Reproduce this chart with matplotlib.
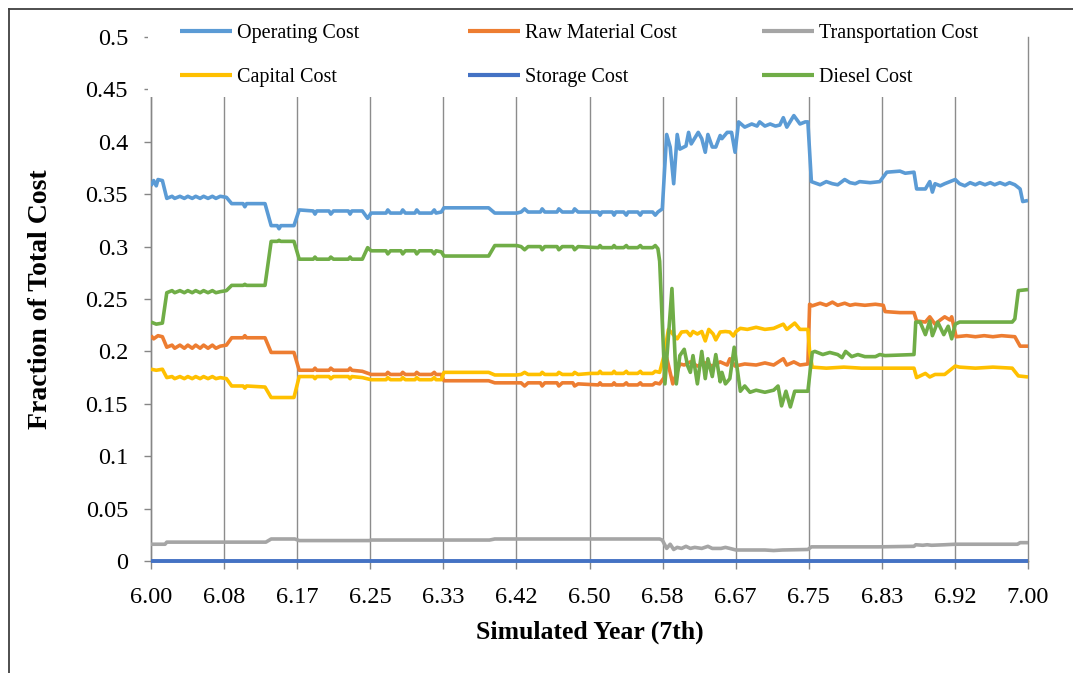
import matplotlib
matplotlib.use("Agg")
import matplotlib.pyplot as plt
from matplotlib.lines import Line2D
from matplotlib.patches import Rectangle

plt.rcParams['font.family'] = ['Liberation Serif', 'DejaVu Serif']

# ---------------- data ----------------
operating_x = [6.000, 6.003, 6.006, 6.008, 6.013, 6.018, 6.024, 6.027, 6.033, 6.038, 6.042, 6.047, 6.051,
               6.056, 6.060, 6.065, 6.070, 6.074, 6.079, 6.086, 6.092, 6.105, 6.107, 6.109, 6.130, 6.137,
               6.144, 6.146, 6.148, 6.163, 6.169, 6.185, 6.187, 6.189, 6.203, 6.205, 6.208, 6.225, 6.227,
               6.229, 6.241, 6.247, 6.251, 6.268, 6.270, 6.273, 6.285, 6.287, 6.290, 6.301, 6.303, 6.306,
               6.320, 6.323, 6.325, 6.331, 6.334, 6.385, 6.392, 6.417, 6.422, 6.426, 6.430, 6.444, 6.446,
               6.449, 6.463, 6.465, 6.469, 6.481, 6.483, 6.487, 6.510, 6.512, 6.514, 6.526, 6.528, 6.530,
               6.539, 6.542, 6.544, 6.555, 6.558, 6.560, 6.572, 6.575, 6.578, 6.583, 6.588, 6.592, 6.596,
               6.600, 6.603, 6.610, 6.613, 6.616, 6.624, 6.628, 6.632, 6.635, 6.640, 6.644, 6.649, 6.651,
               6.657, 6.662, 6.666, 6.670, 6.677, 6.685, 6.691, 6.694, 6.700, 6.706, 6.712, 6.717, 6.721,
               6.725, 6.733, 6.740, 6.746, 6.749, 6.753, 6.763, 6.770, 6.777, 6.783, 6.791, 6.797, 6.803,
               6.808, 6.820, 6.831, 6.839, 6.854, 6.860, 6.870, 6.873, 6.883, 6.888, 6.891, 6.894, 6.900,
               6.905, 6.911, 6.917, 6.922, 6.928, 6.934, 6.940, 6.945, 6.951, 6.957, 6.962, 6.968, 6.974,
               6.979, 6.985, 6.991, 6.994, 7.000]
operating_y = [0.358, 0.363, 0.358, 0.364, 0.363, 0.346, 0.348, 0.346, 0.348, 0.346, 0.348, 0.346, 0.348,
               0.346, 0.348, 0.346, 0.348, 0.346, 0.348, 0.347, 0.341, 0.341, 0.338, 0.341, 0.341, 0.320,
               0.320, 0.317, 0.320, 0.320, 0.335, 0.334, 0.331, 0.334, 0.334, 0.331, 0.334, 0.334, 0.331,
               0.334, 0.334, 0.327, 0.332, 0.332, 0.335, 0.332, 0.332, 0.335, 0.332, 0.332, 0.335, 0.332,
               0.332, 0.335, 0.332, 0.333, 0.337, 0.337, 0.332, 0.332, 0.333, 0.336, 0.333, 0.333, 0.336,
               0.333, 0.333, 0.336, 0.333, 0.333, 0.336, 0.333, 0.333, 0.330, 0.333, 0.333, 0.330, 0.333,
               0.333, 0.330, 0.333, 0.333, 0.330, 0.333, 0.333, 0.330, 0.333, 0.336, 0.407, 0.395, 0.360,
               0.407, 0.393, 0.396, 0.409, 0.398, 0.409, 0.403, 0.390, 0.407, 0.395, 0.395, 0.406, 0.403,
               0.409, 0.409, 0.390, 0.419, 0.414, 0.417, 0.415, 0.419, 0.415, 0.417, 0.415, 0.416, 0.423,
               0.414, 0.425, 0.417, 0.419, 0.419, 0.362, 0.359, 0.362, 0.360, 0.359, 0.364, 0.361, 0.360,
               0.362, 0.361, 0.362, 0.371, 0.372, 0.370, 0.371, 0.355, 0.355, 0.362, 0.352, 0.360, 0.358,
               0.360, 0.362, 0.364, 0.360, 0.358, 0.361, 0.359, 0.361, 0.359, 0.361, 0.359, 0.361, 0.359,
               0.361, 0.359, 0.355, 0.343, 0.344]

raw_x = [6.000, 6.003, 6.008, 6.013, 6.018, 6.024, 6.027, 6.033, 6.038, 6.042, 6.047, 6.051, 6.056, 6.060,
         6.065, 6.070, 6.074, 6.079, 6.086, 6.092, 6.105, 6.107, 6.109, 6.130, 6.137, 6.163, 6.169, 6.185,
         6.187, 6.189, 6.203, 6.205, 6.208, 6.225, 6.227, 6.229, 6.241, 6.251, 6.268, 6.270, 6.273, 6.285,
         6.287, 6.290, 6.301, 6.303, 6.306, 6.320, 6.323, 6.325, 6.331, 6.334, 6.385, 6.392, 6.417, 6.422,
         6.426, 6.430, 6.444, 6.446, 6.449, 6.463, 6.465, 6.469, 6.481, 6.483, 6.487, 6.510, 6.512, 6.514,
         6.526, 6.528, 6.530, 6.539, 6.542, 6.544, 6.555, 6.558, 6.560, 6.572, 6.575, 6.580, 6.585, 6.588,
         6.595, 6.603, 6.608, 6.615, 6.623, 6.632, 6.640, 6.649, 6.657, 6.660, 6.666, 6.677, 6.690, 6.700,
         6.710, 6.721, 6.725, 6.733, 6.740, 6.749, 6.751, 6.754, 6.763, 6.770, 6.777, 6.783, 6.791, 6.797,
         6.803, 6.814, 6.826, 6.835, 6.837, 6.854, 6.870, 6.873, 6.883, 6.888, 6.894, 6.900, 6.905, 6.911,
         6.913, 6.918, 6.930, 6.940, 6.950, 6.960, 6.970, 6.985, 6.991, 7.000]
raw_y = [0.215, 0.212, 0.215, 0.214, 0.204, 0.206, 0.203, 0.206, 0.203, 0.206, 0.203, 0.206, 0.203, 0.206,
         0.203, 0.206, 0.203, 0.205, 0.206, 0.213, 0.213, 0.215, 0.213, 0.213, 0.199, 0.199, 0.182, 0.182,
         0.184, 0.182, 0.182, 0.184, 0.182, 0.182, 0.184, 0.182, 0.181, 0.178, 0.178, 0.180, 0.178, 0.178,
         0.180, 0.178, 0.178, 0.180, 0.178, 0.178, 0.180, 0.178, 0.178, 0.172, 0.172, 0.170, 0.170, 0.170,
         0.167, 0.170, 0.170, 0.167, 0.170, 0.170, 0.167, 0.170, 0.170, 0.167, 0.169, 0.168, 0.170, 0.168,
         0.168, 0.170, 0.168, 0.168, 0.170, 0.168, 0.168, 0.170, 0.168, 0.168, 0.170, 0.169, 0.175, 0.194,
         0.169, 0.188, 0.187, 0.190, 0.186, 0.189, 0.186, 0.190, 0.187, 0.193, 0.186, 0.188, 0.187, 0.189,
         0.187, 0.193, 0.187, 0.190, 0.187, 0.188, 0.245, 0.2435, 0.246, 0.244, 0.247, 0.244, 0.246, 0.244,
         0.245, 0.244, 0.245, 0.244, 0.238, 0.237, 0.237, 0.229, 0.228, 0.233, 0.226, 0.230, 0.233, 0.230,
         0.233, 0.214, 0.215, 0.214, 0.215, 0.214, 0.215, 0.214, 0.205, 0.205]

transport_x = [6.000, 6.016, 6.018, 6.131, 6.137, 6.164, 6.169, 6.249, 6.251, 6.386, 6.392, 6.580, 6.583,
               6.588, 6.592, 6.596, 6.600, 6.605, 6.610, 6.615, 6.620, 6.628, 6.635, 6.640, 6.650, 6.655,
               6.660, 6.667, 6.700, 6.710, 6.720, 6.749, 6.753, 6.830, 6.870, 6.872, 6.880, 6.885, 6.890,
               6.905, 6.917, 6.988, 6.991, 7.000]
transport_y = [0.016, 0.016, 0.018, 0.018, 0.021, 0.021, 0.0195, 0.0195, 0.020, 0.020, 0.021, 0.021, 0.020,
               0.012, 0.016, 0.011, 0.013, 0.012, 0.014, 0.012, 0.013, 0.012, 0.014, 0.012, 0.012, 0.013,
               0.012, 0.0105, 0.0105, 0.010, 0.0105, 0.011, 0.0135, 0.0135, 0.014, 0.0155, 0.015, 0.0155,
               0.015, 0.0155, 0.016, 0.016, 0.0175, 0.0175]

capital_x = [6.000, 6.006, 6.013, 6.018, 6.024, 6.027, 6.033, 6.038, 6.042, 6.047, 6.051, 6.056, 6.060,
             6.065, 6.070, 6.074, 6.079, 6.086, 6.092, 6.105, 6.107, 6.109, 6.130, 6.137, 6.163, 6.169,
             6.185, 6.187, 6.189, 6.203, 6.205, 6.208, 6.225, 6.227, 6.229, 6.241, 6.251, 6.268, 6.270,
             6.273, 6.285, 6.287, 6.290, 6.301, 6.303, 6.306, 6.320, 6.323, 6.325, 6.331, 6.334, 6.385,
             6.392, 6.417, 6.422, 6.426, 6.430, 6.444, 6.446, 6.449, 6.463, 6.465, 6.469, 6.481, 6.483,
             6.487, 6.501, 6.510, 6.512, 6.514, 6.526, 6.528, 6.530, 6.539, 6.542, 6.544, 6.555, 6.558,
             6.560, 6.572, 6.575, 6.580, 6.585, 6.590, 6.600, 6.605, 6.611, 6.615, 6.618, 6.623, 6.628,
             6.632, 6.636, 6.641, 6.644, 6.649, 6.655, 6.660, 6.664, 6.667, 6.672, 6.680, 6.690, 6.700,
             6.710, 6.721, 6.725, 6.734, 6.740, 6.749, 6.751, 6.754, 6.770, 6.790, 6.810, 6.835, 6.850,
             6.870, 6.873, 6.883, 6.888, 6.894, 6.905, 6.917, 6.922, 6.940, 6.960, 6.982, 6.989, 7.000]
capital_y = [0.183, 0.182, 0.183, 0.175, 0.176, 0.174, 0.176, 0.174, 0.176, 0.174, 0.176, 0.174, 0.176,
             0.174, 0.176, 0.174, 0.175, 0.174, 0.167, 0.167, 0.165, 0.167, 0.166, 0.156, 0.156, 0.176,
             0.176, 0.174, 0.176, 0.176, 0.174, 0.176, 0.176, 0.174, 0.176, 0.175, 0.173, 0.173, 0.175,
             0.173, 0.173, 0.175, 0.173, 0.173, 0.175, 0.173, 0.173, 0.175, 0.173, 0.173, 0.180, 0.180,
             0.1775, 0.1775, 0.178, 0.180, 0.178, 0.178, 0.180, 0.178, 0.178, 0.180, 0.178, 0.178, 0.180,
             0.178, 0.179, 0.179, 0.181, 0.179, 0.179, 0.181, 0.179, 0.179, 0.181, 0.179, 0.179, 0.181,
             0.179, 0.179, 0.181, 0.180, 0.196, 0.221, 0.212, 0.2185, 0.219, 0.215, 0.219, 0.2166, 0.219,
             0.210, 0.221, 0.2166, 0.211, 0.2185, 0.219, 0.2185, 0.2147, 0.219, 0.222, 0.221, 0.223, 0.221,
             0.222, 0.226, 0.221, 0.227, 0.221, 0.221, 0.200, 0.185, 0.184, 0.185, 0.184, 0.184, 0.184,
             0.184, 0.175, 0.179, 0.1756, 0.178, 0.178, 0.186, 0.185, 0.184, 0.185, 0.184, 0.1766, 0.1756]

storage_x = [6.000, 7.000]
storage_y = [0.0, 0.0]

diesel_x = [6.000, 6.006, 6.013, 6.018, 6.024, 6.027, 6.033, 6.038, 6.042, 6.047, 6.051, 6.056, 6.060,
            6.065, 6.070, 6.074, 6.079, 6.086, 6.092, 6.105, 6.107, 6.109, 6.130, 6.137, 6.144, 6.146,
            6.148, 6.163, 6.169, 6.185, 6.187, 6.189, 6.203, 6.205, 6.208, 6.225, 6.227, 6.229, 6.241,
            6.247, 6.251, 6.268, 6.270, 6.273, 6.285, 6.287, 6.290, 6.301, 6.303, 6.306, 6.320, 6.323,
            6.325, 6.331, 6.334, 6.385, 6.392, 6.417, 6.422, 6.426, 6.430, 6.444, 6.446, 6.449, 6.463,
            6.465, 6.469, 6.481, 6.483, 6.487, 6.510, 6.512, 6.514, 6.526, 6.528, 6.530, 6.539, 6.542,
            6.544, 6.555, 6.558, 6.560, 6.572, 6.575, 6.578, 6.580, 6.586, 6.594, 6.599, 6.603, 6.608,
            6.612, 6.615, 6.618, 6.623, 6.628, 6.632, 6.635, 6.640, 6.644, 6.649, 6.651, 6.655, 6.660,
            6.665, 6.668, 6.672, 6.677, 6.683, 6.690, 6.700, 6.710, 6.715, 6.719, 6.724, 6.729, 6.734,
            6.749, 6.754, 6.757, 6.766, 6.774, 6.783, 6.788, 6.792, 6.799, 6.806, 6.814, 6.826, 6.831,
            6.837, 6.870, 6.872, 6.877, 6.883, 6.888, 6.891, 6.897, 6.904, 6.909, 6.913, 6.917, 6.922,
            6.982, 6.985, 6.989, 7.000]
diesel_y = [0.228, 0.226, 0.227, 0.256, 0.258, 0.256, 0.258, 0.256, 0.258, 0.256, 0.258, 0.256, 0.258,
            0.256, 0.258, 0.256, 0.257, 0.258, 0.263, 0.263, 0.264, 0.263, 0.263, 0.305, 0.305, 0.306,
            0.305, 0.305, 0.288, 0.288, 0.290, 0.288, 0.288, 0.290, 0.288, 0.288, 0.290, 0.288, 0.288,
            0.299, 0.296, 0.296, 0.293, 0.296, 0.296, 0.293, 0.296, 0.296, 0.293, 0.296, 0.296, 0.293,
            0.296, 0.295, 0.291, 0.291, 0.301, 0.301, 0.300, 0.297, 0.300, 0.300, 0.297, 0.300, 0.300,
            0.297, 0.300, 0.300, 0.297, 0.300, 0.299, 0.301, 0.299, 0.299, 0.301, 0.299, 0.299, 0.301,
            0.299, 0.299, 0.301, 0.299, 0.299, 0.301, 0.298, 0.286, 0.169, 0.260, 0.169, 0.196, 0.202,
            0.186, 0.180, 0.196, 0.169, 0.200, 0.174, 0.193, 0.176, 0.197, 0.171, 0.180, 0.169, 0.174,
            0.204, 0.186, 0.162, 0.167, 0.161, 0.163, 0.161, 0.163, 0.167, 0.148, 0.162, 0.147, 0.162,
            0.162, 0.199, 0.200, 0.197, 0.199, 0.197, 0.194, 0.200, 0.195, 0.197, 0.195, 0.195, 0.197,
            0.196, 0.197, 0.228, 0.228, 0.216, 0.229, 0.215, 0.228, 0.216, 0.224, 0.212, 0.226, 0.228,
            0.228, 0.231, 0.258, 0.259]

series_names = ["Operating Cost", "Raw Material Cost", "Transportation Cost",
                "Capital Cost", "Storage Cost", "Diesel Cost"]
series_colors = ["#5B9BD5", "#ED7D31", "#A5A5A5", "#FFC000", "#4472C4", "#70AD47"]

x_ticks = [6 + k / 12 for k in range(13)]
x_tick_labels = ["6.00", "6.08", "6.17", "6.25", "6.33", "6.42", "6.50",
                 "6.58", "6.67", "6.75", "6.83", "6.92", "7.00"]
y_ticks = [0, 0.05, 0.1, 0.15, 0.2, 0.25, 0.3, 0.35, 0.4, 0.45, 0.5]
y_tick_labels = ["0", "0.05", "0.1", "0.15", "0.2", "0.25", "0.3", "0.35", "0.4", "0.45", "0.5"]

# ---------------- figure ----------------
W, H = 1073, 673
fig = plt.figure(figsize=(W / 100, H / 100), dpi=100)
ax = fig.add_axes([151 / W, 1 - 561 / H, 877 / W, 524 / H])

all_x = [operating_x, raw_x, transport_x, capital_x, storage_x, diesel_x]
all_y = [operating_y, raw_y, transport_y, capital_y, storage_y, diesel_y]
handles = []
for xs, ys, name, col in zip(all_x, all_y, series_names, series_colors):
    lw = 2.8 if name == "Storage Cost" else 2.6
    ln, = ax.plot(xs, ys, color=col, lw=lw, label=name, solid_joinstyle='round',
                  solid_capstyle='butt', zorder=3)
    if name == "Storage Cost":
        ln.set_clip_on(False)
    handles.append(ln)

ax.set_xlim(6.0, 7.0)
ax.set_ylim(0, 0.5)
ax.set_xticks(x_ticks)
ax.set_xticklabels(x_tick_labels, fontsize=17.5)
ax.set_yticks(y_ticks)
ax.set_yticklabels(y_tick_labels, fontsize=17.5)
ax.tick_params(axis='x', direction='out', length=6, width=1, color='#868686', pad=13)
ax.tick_params(axis='y', direction='out', length=5, width=1, color='#868686', pad=11.5)
ax.grid(axis='x', color='#8c8c8c', lw=1.0, zorder=1)
for gl in ax.get_xgridlines():
    gl.set_clip_on(False)
ax.set_axisbelow(True)
for s in ['top', 'right']:
    ax.spines[s].set_visible(False)
for s in ['left', 'bottom']:
    ax.spines[s].set_color('#868686')
    ax.spines[s].set_linewidth(1.0)

ax.set_xlabel("Simulated Year (7th)", fontsize=18.5, fontweight='bold')
ax.xaxis.set_label_coords(0.5, -(621 - 561) / 524)
ax.set_ylabel("Fraction of Total Cost", fontsize=20, fontweight='bold')
ax.yaxis.set_label_coords(-(151 - 53) / 877, 0.5)

# white legend area hiding the gridlines
fig.add_artist(Rectangle((148 / W, 1 - 97 / H), (1003 - 148) / W, (97 - 14) / H,
                         transform=fig.transFigure, facecolor='white', edgecolor='none', zorder=5))

# legend: three columns of two rows
col_x = [180 / W, 468 / W, 762 / W]
for c in range(3):
    hs = [handles[c], handles[c + 3]]
    leg = fig.legend(hs, [h.get_label() for h in hs], loc='upper left',
                     bbox_to_anchor=(col_x[c], 1 - 24 / H), frameon=False,
                     fontsize=14.5, handlelength=2.6, handletextpad=0.25,
                     labelspacing=1.22, borderpad=0, borderaxespad=0)
    leg.set_zorder(6)
    for lh in leg.get_lines():
        lh.set_linewidth(3.0)

# outer chart border (top and left visible)
fig.add_artist(Line2D([9 / W, 1.0], [1 - 9 / H, 1 - 9 / H], transform=fig.transFigure,
                      color='#404040', lw=1.3))
fig.add_artist(Line2D([9 / W, 9 / W], [1 - 9 / H, 0], transform=fig.transFigure,
                      color='#404040', lw=1.3))

fig.savefig("out.png", dpi=100)
